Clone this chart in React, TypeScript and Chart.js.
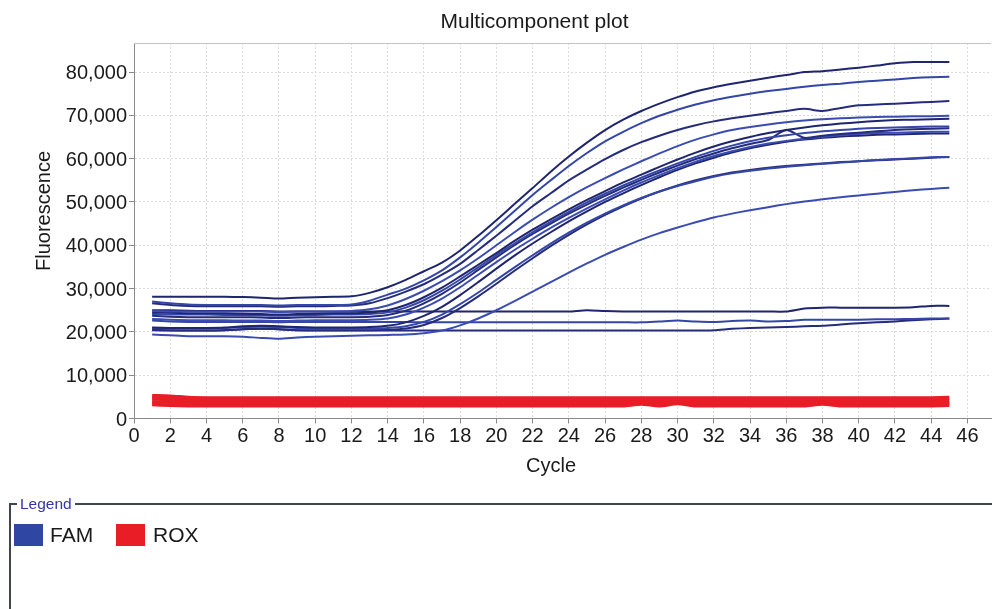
import React, { useEffect, useRef } from 'react';
import { Chart, registerables } from 'chart.js';

Chart.register(...registerables);

const FONT = '"Liberation Sans", Arial, Helvetica, sans-serif';

const cycles = [1, 2, 3, 4, 5, 6, 7, 8, 9, 10, 11, 12, 13, 14, 15, 16, 17, 18, 19, 20, 21, 22, 23, 24, 25, 26, 27, 28, 29, 30, 31, 32, 33, 34, 35, 36, 37, 38, 39, 40, 41, 42, 43, 44, 45];
const xTickValues = [0, 2, 4, 6, 8, 10, 12, 14, 16, 18, 20, 22, 24, 26, 28, 30, 32, 34, 36, 38, 40, 42, 44, 46];
const yTickValues = [0, 10000, 20000, 30000, 40000, 50000, 60000, 70000, 80000];

// FAM (amplified wells)
const famA = [28100, 28100, 28100, 28100, 28100, 28050, 27900, 27700, 27900, 28000, 28100, 28200, 29000, 30300, 32000, 34000, 36000, 38800, 42200, 45800, 49500, 53200, 57000, 60500, 63700, 66600, 69000, 71000, 72700, 74200, 75500, 76500, 77300, 78000, 78700, 79300, 80000, 80200, 80600, 81000, 81500, 82000, 82300, 82300, 82300];
const famB = [27000, 26600, 26300, 26200, 26200, 26200, 26200, 26100, 26200, 26200, 26200, 26300, 27200, 28600, 30000, 31900, 34200, 37200, 40600, 44200, 47900, 51600, 55000, 58300, 61300, 64000, 66200, 68200, 69900, 71300, 72500, 73500, 74300, 75000, 75600, 76100, 76600, 77000, 77300, 77700, 78000, 78300, 78600, 78800, 78900];
const famC = [26600, 26200, 26000, 25900, 25900, 25900, 25900, 25800, 25900, 25900, 26000, 26100, 26600, 27800, 29300, 31000, 33200, 35700, 38900, 42200, 45600, 49000, 52000, 55000, 57500, 59900, 62000, 63800, 65300, 66600, 67700, 68600, 69300, 69900, 70500, 71000, 71500, 71000, 71700, 72300, 72500, 72700, 72900, 73100, 73300];
const famD = [24800, 24700, 24700, 24700, 24700, 24700, 24700, 24600, 24700, 24700, 24700, 24800, 25200, 26100, 27600, 29500, 31700, 34200, 37000, 40000, 43000, 45900, 48600, 51100, 53400, 55500, 57500, 59400, 61200, 62900, 64400, 65600, 66600, 67300, 67900, 68400, 68800, 69100, 69300, 69500, 69600, 69700, 69800, 69800, 69900];
const famE = [24500, 24400, 24300, 24300, 24300, 24200, 24100, 24000, 24100, 24200, 24300, 24300, 24500, 25000, 26200, 28000, 30200, 32800, 35500, 38200, 41000, 43600, 46000, 48300, 50500, 52500, 54500, 56300, 58100, 59800, 61400, 62800, 64000, 65000, 65900, 66600, 67200, 67700, 68100, 68400, 68700, 68900, 69000, 69100, 69200];
const famF = [24100, 24000, 24000, 24000, 23900, 23900, 23800, 23700, 23800, 23900, 24000, 24000, 24100, 24500, 25600, 27300, 29500, 32100, 34900, 37700, 40400, 43000, 45400, 47700, 49900, 51900, 53800, 55600, 57300, 58900, 60400, 61800, 63000, 64000, 64800, 65400, 65900, 66300, 66600, 66900, 67100, 67200, 67300, 67400, 67400];
const famG = [23700, 23500, 23400, 23400, 23400, 23400, 23300, 23200, 23300, 23400, 23400, 23400, 23500, 23900, 24900, 26600, 28800, 31400, 34300, 37200, 40000, 42600, 45000, 47300, 49400, 51400, 53300, 55100, 56800, 58400, 59900, 61200, 62400, 63400, 64300, 66600, 64800, 65300, 65700, 66000, 66300, 66600, 66800, 66900, 67000];
const famH = [23000, 22800, 22700, 22700, 22700, 22600, 22600, 22500, 22600, 22700, 22700, 22700, 22800, 23100, 24000, 25600, 27700, 30300, 33200, 36100, 38900, 41500, 44000, 46300, 48500, 50600, 52600, 54500, 56200, 57800, 59300, 60600, 61700, 62700, 63500, 64100, 64600, 65000, 65400, 65700, 65900, 66000, 66100, 66200, 66200];
const famI = [21000, 20900, 20900, 20900, 21000, 21300, 21400, 21300, 21100, 21000, 21000, 21000, 21100, 21400, 22200, 23700, 25800, 28500, 31500, 34600, 37600, 40400, 43000, 45500, 47800, 50000, 52000, 53900, 55700, 57400, 58900, 60200, 61400, 62400, 63200, 63900, 64400, 64800, 65100, 65300, 65500, 65600, 65700, 65800, 65800];
const famJ = [20900, 20800, 20800, 20800, 20900, 21100, 21200, 21100, 20900, 20800, 20800, 20800, 20800, 20900, 21300, 22300, 24000, 26400, 29100, 32000, 34900, 37700, 40400, 42900, 45200, 47300, 49200, 50900, 52400, 53700, 54800, 55800, 56600, 57200, 57700, 58100, 58500, 58800, 59100, 59400, 59700, 59900, 60100, 60300, 60400];
const famK = [20500, 20400, 20300, 20300, 20400, 20600, 20700, 20600, 20400, 20400, 20400, 20400, 20400, 20500, 20800, 21600, 23200, 25500, 28200, 31100, 34100, 37000, 39800, 42400, 44800, 47000, 49000, 50800, 52400, 53800, 55000, 56000, 56800, 57400, 57900, 58300, 58600, 58900, 59200, 59400, 59600, 59800, 60000, 60200, 60400];
const famL = [19400, 19200, 19000, 19000, 19000, 18900, 18600, 18400, 18700, 18900, 19000, 19100, 19200, 19300, 19400, 19700, 20300, 21500, 23100, 25000, 27100, 29300, 31500, 33700, 35800, 37800, 39600, 41300, 42800, 44100, 45300, 46400, 47300, 48100, 48800, 49500, 50100, 50600, 51100, 51500, 51900, 52300, 52700, 53000, 53300];
// FAM (non-amplified wells)
const famFlat1 = [25000, 25000, 24900, 24800, 24800, 24800, 24800, 24700, 24700, 24700, 24700, 24700, 24700, 24700, 24700, 24700, 24700, 24700, 24700, 24700, 24700, 24700, 24700, 24700, 25000, 24800, 24700, 24700, 24700, 24700, 24700, 24700, 24700, 24700, 24700, 24700, 25400, 25600, 25600, 25600, 25600, 25600, 25700, 26000, 26000];
const famFlat2 = [22600, 22400, 22300, 22300, 22300, 22300, 22300, 22200, 22300, 22300, 22300, 22300, 22300, 22300, 22300, 22200, 22200, 22200, 22200, 22200, 22200, 22200, 22200, 22200, 22200, 22200, 22200, 22200, 22400, 22600, 22400, 22300, 22500, 22600, 22400, 22500, 22800, 22800, 22800, 22800, 22900, 22900, 23000, 23100, 23100];
const famFlat3 = [20400, 20300, 20300, 20300, 20400, 20600, 20700, 20600, 20400, 20300, 20300, 20300, 20300, 20300, 20300, 20300, 20300, 20300, 20300, 20300, 20300, 20300, 20300, 20300, 20300, 20300, 20300, 20300, 20300, 20300, 20300, 20400, 20700, 20900, 21000, 21100, 21300, 21400, 21700, 22000, 22200, 22400, 22700, 22900, 23100];

// ROX (passive reference)
const roxA = [5200, 5100, 4800, 4700, 4700, 4700, 4700, 4700, 4700, 4700, 4700, 4700, 4700, 4700, 4700, 4700, 4700, 4700, 4700, 4700, 4700, 4700, 4700, 4700, 4700, 4700, 4700, 4700, 4700, 4700, 4700, 4700, 4700, 4700, 4700, 4700, 4700, 4700, 4700, 4700, 4700, 4700, 4700, 4700, 4800];
const roxB = [4600, 4400, 4100, 4000, 4000, 4000, 4000, 4000, 4000, 4000, 4000, 4000, 4000, 4000, 4000, 4000, 4000, 4000, 4000, 4000, 4000, 4000, 4000, 4000, 4000, 4000, 4000, 4000, 4000, 4000, 4000, 4000, 4000, 4000, 4000, 4000, 4000, 4000, 4000, 4000, 4000, 4000, 4000, 4000, 4100];
const roxC = [3800, 3600, 3400, 3400, 3400, 3400, 3400, 3400, 3400, 3400, 3400, 3400, 3400, 3400, 3400, 3400, 3400, 3400, 3400, 3400, 3400, 3400, 3400, 3400, 3400, 3400, 3400, 3700, 3400, 3800, 3400, 3400, 3400, 3400, 3400, 3400, 3400, 3700, 3400, 3400, 3400, 3400, 3400, 3400, 3500];
const roxD = [3300, 3100, 3000, 3000, 3000, 3000, 3000, 3000, 3000, 3000, 3000, 3000, 3000, 3000, 3000, 3000, 3000, 3000, 3000, 3000, 3000, 3000, 3000, 3000, 3000, 3000, 3000, 3400, 3000, 3500, 3000, 3000, 3000, 3000, 3000, 3000, 3000, 3400, 3000, 3000, 3000, 3000, 3000, 3000, 3100];

const famSeries = [famA, famB, famC, famD, famE, famF, famG, famH, famI, famJ, famK, famL, famFlat1, famFlat2, famFlat3];
const roxSeries = [roxA, roxB, roxC, roxD];

const famColors = ['#1f256f', '#3446a8', '#262c7c', '#3a4cb2'];
const roxColor = '#e81d25';

const textPlugin = {
  id: 'customText',
  afterDraw(chart: any) {
    const { ctx, chartArea } = chart;
    ctx.save();
    // top border of plot
    ctx.strokeStyle = '#c4c4c4';
    ctx.lineWidth = 1;
    ctx.beginPath();
    ctx.moveTo(chartArea.left, chartArea.top + 0.5);
    ctx.lineTo(chartArea.right, chartArea.top + 0.5);
    ctx.stroke();

    ctx.fillStyle = '#1a1a1a';
    ctx.textAlign = 'center';
    ctx.textBaseline = 'middle';
    ctx.font = `21px ${FONT}`;
    ctx.fillText('Multicomponent plot', 534.5, 22.5);

    ctx.font = `20px ${FONT}`;
    ctx.fillText('Cycle', 551, 466);

    ctx.translate(44, 211);
    ctx.rotate(-Math.PI / 2);
    ctx.fillText('Fluorescence', 0, 0);
    ctx.restore();
  },
};

export default function App() {
  const canvasRef = useRef<HTMLCanvasElement | null>(null);

  useEffect(() => {
    if (!canvasRef.current) return;
    const datasets: any[] = [
      ...roxSeries.map((s) => ({
        label: 'ROX',
        data: s.map((v, j) => ({ x: cycles[j], y: v })),
        borderColor: roxColor,
        backgroundColor: roxColor,
        borderWidth: 4,
        pointRadius: 0,
        tension: 0.2,
        fill: false,
      })),
      ...famSeries.map((s, i) => ({
        label: 'FAM',
        data: s.map((v, j) => ({ x: cycles[j], y: v })),
        borderColor: famColors[i % famColors.length],
        backgroundColor: famColors[i % famColors.length],
        borderWidth: 2,
        pointRadius: 0,
        tension: 0.25,
        fill: false,
      })),
    ];

    const chart = new Chart(canvasRef.current, {
      type: 'line',
      data: { datasets },
      options: {
        responsive: false,
        animation: false,
        devicePixelRatio: 1,
        layout: { padding: { top: 43, right: 1, left: 0, bottom: 0 } },
        plugins: {
          legend: { display: false },
          title: { display: false },
          tooltip: { enabled: false },
        },
        scales: {
          x: {
            type: 'linear',
            min: 0,
            max: 47.3,
            afterBuildTicks: (s: any) => {
              s.ticks = xTickValues.map((v) => ({ value: v }));
            },
            afterFit: (s: any) => {
              s.height = 81.5;
            },
            ticks: {
              font: { family: FONT, size: 20 },
              color: '#1a1a1a',
              padding: 1,
              maxRotation: 0,
              autoSkip: false,
              callback: (v: any) => String(v),
            },
            grid: { color: '#dcdcdc', tickColor: '#8a8a8a', tickLength: 5 },
            border: { display: true, color: '#8a8a8a', width: 1, dash: [2, 2] },
          },
          y: {
            type: 'linear',
            min: 0,
            max: 86700,
            afterBuildTicks: (s: any) => {
              s.ticks = yTickValues.map((v) => ({ value: v }));
            },
            afterFit: (s: any) => {
              s.width = 134;
            },
            ticks: {
              font: { family: FONT, size: 20 },
              color: '#1a1a1a',
              padding: 2,
              labelOffset: 1.5,
              autoSkip: false,
              callback: (v: any) => Number(v).toLocaleString('en-US'),
            },
            grid: { color: '#dcdcdc', tickColor: '#8a8a8a', tickLength: 5 },
            border: { display: true, color: '#8a8a8a', width: 1, dash: [2, 2] },
          },
        },
      },
      plugins: [textPlugin],
    } as any);
    return () => chart.destroy();
  }, []);

  return (
    <div style={{ position: 'absolute', left: 0, top: 0, width: 992, height: 609, background: '#fff', overflow: 'hidden', fontFamily: FONT }}>
      <canvas ref={canvasRef} width={992} height={500} style={{ position: 'absolute', left: 0, top: 0, width: 992, height: 500 }} />
      {/* Legend frame */}
      <div style={{ position: 'absolute', left: 9, top: 503, width: 983, height: 2, background: '#3d474c' }} />
      <div style={{ position: 'absolute', left: 9, top: 503, width: 2, height: 106, background: '#3d474c' }} />
      <div style={{ position: 'absolute', left: 17, top: 494, height: 20, padding: '0 3px', background: '#fff', color: '#3535a5', fontSize: 15.5, lineHeight: '20px' }}>Legend</div>
      <div style={{ position: 'absolute', left: 14, top: 524, height: 22, display: 'flex', alignItems: 'center' }}>
        <div style={{ width: 29, height: 22, background: '#2e47a3' }} />
        <span style={{ marginLeft: 7, fontSize: 21, color: '#1a1a1a', lineHeight: '22px' }}>FAM</span>
      </div>
      <div style={{ position: 'absolute', left: 116, top: 524, height: 22, display: 'flex', alignItems: 'center' }}>
        <div style={{ width: 29, height: 22, background: roxColor }} />
        <span style={{ marginLeft: 8, fontSize: 21, color: '#1a1a1a', lineHeight: '22px' }}>ROX</span>
      </div>
    </div>
  );
}
